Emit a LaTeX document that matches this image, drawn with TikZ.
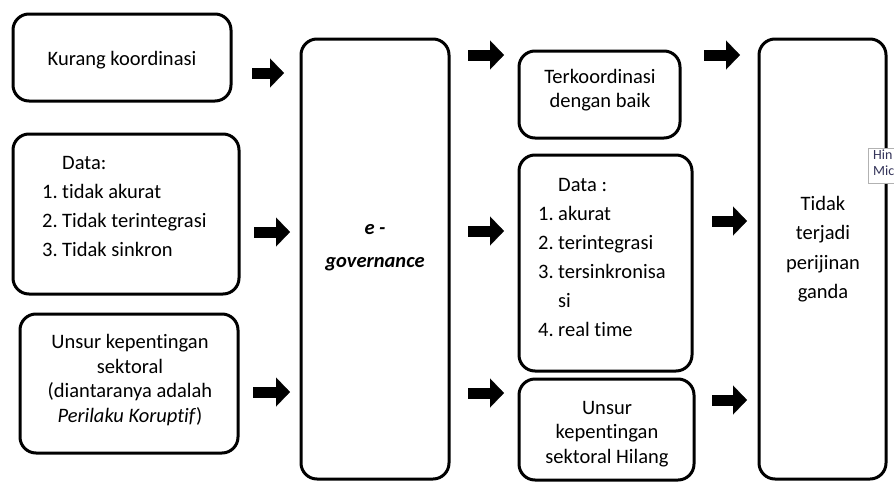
\documentclass[tikz,border=0pt]{standalone}
\usepackage{fontspec}
\setmainfont[Ligatures=NoCommon]{Carlito}
\usetikzlibrary{arrows.meta}
\begin{document}
\begin{tikzpicture}[x=1pt,y=-1pt,
  rbox/.style={draw, line width=3pt, rounded corners=16pt, inner sep=0pt},
  txt/.style={inner sep=0pt, font=\fontsize{20.5}{24.5}\selectfont, align=center},
  lst/.style={inner sep=0pt, font=\fontsize{20.5}{29}\selectfont, align=left, anchor=west},
  blk/.style={line width=11pt, -{Triangle[length=14pt,width=29pt,line width=0.1pt]}}
]
\useasboundingbox (0,0) rectangle (894,482);
\newcommand{\numi}[1]{\makebox[20pt][l]{#1}}
% boxes
\node[rbox, minimum width=218pt, minimum height=87pt] (k1) at (122,57.5) {};
\node[rbox, minimum width=226pt, minimum height=160pt] (d1) at (126,214) {};
\node[rbox, minimum width=218pt, minimum height=139pt] (u1) at (129,383.5) {};
\node[rbox, minimum width=148pt, minimum height=440pt] (eg) at (375,259) {};
\node[rbox, minimum width=161pt, minimum height=87pt] (t2) at (599.5,94.5) {};
\node[rbox, minimum width=173pt, minimum height=216pt] (d2) at (605.5,263) {};
\node[rbox, minimum width=175pt, minimum height=101pt] (u2) at (606.5,429.5) {};
\node[rbox, minimum width=127pt, minimum height=440pt] (r) at (822.5,259) {};
% texts
\node[txt] (k1t) at (122,60) {Kurang koordinasi};
\node[lst] (d1t) at (42,206) {\numi{}Data:\\\numi{1.}tidak akurat\\\numi{2.}Tidak terintegrasi\\\numi{3.}Tidak sinkron};
\node[txt] (u1t) at (130,380) {Unsur kepentingan\\sektoral\\(diantaranya adalah\\\textit{Perilaku Koruptif})};
\node[txt, font=\fontsize{20.5}{33}\selectfont\bfseries\itshape] (egt) at (375,248) {e -\\governance};
\node[txt] (t2t) at (600,90) {Terkoordinasi\\dengan baik};
\node[lst] (d2t) at (538,257.5) {\numi{}Data :\\\numi{1.}akurat\\\numi{2.}terintegrasi\\\numi{3.}tersinkronisa\\\numi{}si\\\numi{4.}real time};
\node[txt] (u2t) at (607,434) {Unsur\\kepentingan\\sektoral Hilang};
\node[txt, font=\fontsize{20.5}{29.3}\selectfont] (rt) at (823,249) {Tidak\\terjadi\\perijinan\\ganda};
% arrows
\coordinate (a1s) at (252,73);  \coordinate (a1e) at (284,73);
\coordinate (a2s) at (254,232); \coordinate (a2e) at (290,232);
\coordinate (a3s) at (253,392); \coordinate (a3e) at (290,392);
\coordinate (a4s) at (468,55);  \coordinate (a4e) at (504,55);
\coordinate (a5s) at (468,231); \coordinate (a5e) at (504,231);
\coordinate (a6s) at (468,393); \coordinate (a6e) at (504,393);
\coordinate (a7s) at (704,55);  \coordinate (a7e) at (740,55);
\coordinate (a8s) at (712,221); \coordinate (a8e) at (747,221);
\coordinate (a9s) at (712,400); \coordinate (a9e) at (747,400);
\foreach \i in {1,...,9} {\draw[blk] (a\i s) -- (a\i e);}
% tooltip artifact
\begin{scope}
\clip (0,0) rectangle (894,482);
\node[draw=gray!60, fill=white, line width=1pt, minimum width=40pt, minimum height=35pt, inner sep=0pt] (tip) at (888,165.5) {};
\node[inner sep=0pt, anchor=north west, align=left, text=black!75!blue!60!gray, font=\fontsize{14}{16}\selectfont] (tipt) at (873,150) {Hin\\Mic};
\end{scope}
\end{tikzpicture}
\end{document}
